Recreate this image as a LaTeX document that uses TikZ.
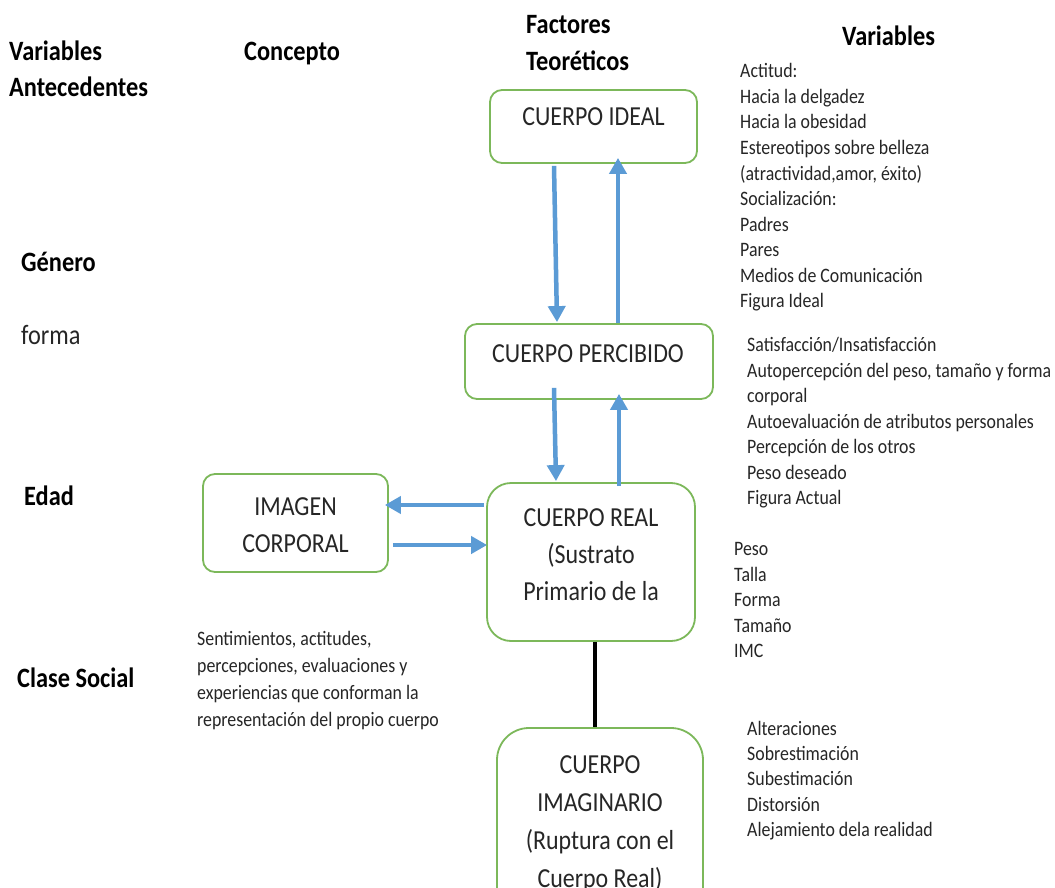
\documentclass[tikz,border=0pt]{standalone}
\usepackage{fontspec}
\setmainfont[FakeStretch=0.87]{Carlito}
\usetikzlibrary{arrows.meta}
\definecolor{boxgreen}{HTML}{7CB85A}
\definecolor{arrowblue}{HTML}{5B9BD5}
\definecolor{txt}{HTML}{262626}
\begin{document}
\begin{tikzpicture}[x=1pt,y=-1pt,
  boxnode/.style={draw=boxgreen,line width=1.8pt,rounded corners=#1,inner sep=0pt,fill=white},
  boxnode/.default=12pt,
  lbl/.style={anchor=base west,inner sep=0pt,font=\fontsize{28}{34}\selectfont\bfseries,text=black},
  plainlbl/.style={anchor=base west,inner sep=0pt,font=\fontsize{28}{34}\selectfont,text=txt},
  small/.style={anchor=base west,inner sep=0pt,font=\fontsize{20.5}{25}\selectfont,text=txt},
  boxtxt/.style={anchor=base,inner sep=0pt,font=\fontsize{27.5}{33}\selectfont,text=txt},
  bluearrow/.style={draw=arrowblue,line width=4.5pt,-{Triangle[length=16pt,width=17pt]}},
  blackline/.style={draw=black,line width=4.5pt}]
\fill[white] (0,0) rectangle (1055,888);
\useasboundingbox (0,0) rectangle (1055,888);

% headers and side labels
\node[lbl] (h1a) at (9,61) {Variables};
\node[lbl] (h1b) at (9,97) {Antecedentes};
\node[lbl] (h2) at (244,61) {Concepto};
\node[lbl] (h3a) at (526,34) {Factores};
\node[lbl] (h3b) at (526,71) {Teoréticos};
\node[lbl] (h4) at (842,46) {Variables};
\node[lbl] (gen) at (21,271) {Género};
\node[plainlbl] (forma) at (21,344) {forma};
\node[lbl] (edad) at (24,505) {Edad};
\node[lbl] (clase) at (17,687) {Clase Social};

% boxes
\node[boxnode,minimum width=207pt,minimum height=73pt] (ideal) at (593.5,126.5) {};
\node[boxnode,minimum width=248pt,minimum height=75pt] (perc) at (589,361.5) {};
\node[boxnode,minimum width=185pt,minimum height=98pt] (imagen) at (295.5,523) {};
\node[boxnode=24pt,minimum width=208pt,minimum height=158pt] (real) at (591,562) {};
\node[boxnode=32pt,minimum width=206pt,minimum height=192pt] (imag) at (600,824) {};

% box texts
\node[boxtxt] (tideal) at (593.5,126) {CUERPO IDEAL};
\node[boxtxt] (tperc) at (588,362) {CUERPO PERCIBIDO};
\node[boxtxt] (timg1) at (295.5,515) {IMAGEN};
\node[boxtxt] (timg2) at (295.5,552) {CORPORAL};
\node[boxtxt] (treal1) at (591,526) {CUERPO REAL};
\node[boxtxt] (treal2) at (591,563) {(Sustrato};
\node[boxtxt] (treal3) at (591,600) {Primario de la};
\node[boxtxt] (timag1) at (600,773) {CUERPO};
\node[boxtxt] (timag2) at (600,811) {IMAGINARIO};
\node[boxtxt] (timag3) at (600,849) {(Ruptura con el};
\node[boxtxt] (timag4) at (600,887) {Cuerpo Real)};

% connectors
\draw[bluearrow] ([xshift=-39.5pt,yshift=-2pt]ideal.south) -- ([xshift=-32pt,yshift=1pt]perc.north);
\draw[bluearrow] ([xshift=29pt]perc.north) -- ([xshift=24.5pt,yshift=6pt]ideal.south);
\draw[bluearrow] ([xshift=-35pt,yshift=12pt]perc.south) -- ([xshift=-35pt,yshift=1pt]real.north);
\draw[bluearrow] ([xshift=28pt,yshift=-4pt]real.north) -- ([xshift=30pt,yshift=6pt]perc.south);
\draw[bluearrow] ([xshift=-2pt,yshift=57pt]real.west) -- ([xshift=-4pt,yshift=18pt]imagen.east);
\draw[bluearrow] ([xshift=4pt,yshift=-22pt]imagen.east) -- ([xshift=1pt,yshift=17pt]real.west);
\draw[blackline] ([xshift=4pt]real.south) -- ([xshift=-5pt]imag.north);

% variable lists
\foreach \t [count=\i] in {Actitud:, Hacia la delgadez, Hacia la obesidad, Estereotipos sobre belleza, {(atractividad,amor, éxito)}, Socialización:, Padres, Pares, Medios de Comunicación, Figura Ideal}
  \node[small] (va\i) at (740,{78+25.5*(\i-1)}) {\t};
\foreach \t [count=\i] in {Satisfacción/Insatisfacción, {Autopercepción del peso, tamaño y forma}, corporal, Autoevaluación de atributos personales, Percepción de los otros, Peso deseado, Figura Actual}
  \node[small] (vb\i) at (747,{351.5+25.5*(\i-1)}) {\t};
\foreach \t [count=\i] in {Peso, Talla, Forma, Tamaño, IMC}
  \node[small] (vc\i) at (734,{555.5+25.6*(\i-1)}) {\t};
\foreach \t [count=\i] in {Alteraciones, Sobrestimación, Subestimación, Distorsión, Alejamiento dela realidad}
  \node[small] (vd\i) at (747,{735.5+25.2*(\i-1)}) {\t};
\foreach \t [count=\i] in {{Sentimientos, actitudes,}, {percepciones, evaluaciones y}, experiencias que conforman la, representación del propio cuerpo}
  \node[small] (ce\i) at (197,{645.5+27*(\i-1)}) {\t};
\end{tikzpicture}
\end{document}
